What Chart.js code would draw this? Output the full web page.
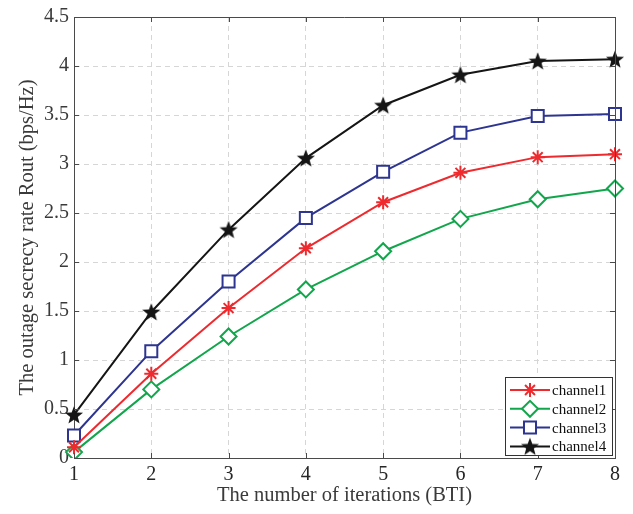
<!DOCTYPE html>
<html>
<head>
<meta charset="utf-8">
<title>Outage secrecy rate vs iterations</title>
<script src="https://cdn.jsdelivr.net/npm/chart.js@4.4.1/dist/chart.umd.min.js"></script>
<style>
  html, body { margin: 0; padding: 0; background: #fff; }
  #wrap { width: 633px; height: 514px; position: relative; }
</style>
</head>
<body>
<div id="wrap"><canvas id="rateChart" width="633" height="514"></canvas></div>
<script>
// iterations on the x axis
const iterations = ['1', '2', '3', '4', '5', '6', '7', '8'];
const yTickLabels = ['0', '0.5', '1', '1.5', '2', '2.5', '3', '3.5', '4', '4.5'];

// outage secrecy rate per channel (bps/Hz)
const channel1 = [0.11, 0.86, 1.53, 2.14, 2.61, 2.91, 3.07, 3.10];
const channel2 = [0.06, 0.70, 1.24, 1.72, 2.11, 2.44, 2.64, 2.75];
const channel3 = [0.23, 1.09, 1.80, 2.45, 2.92, 3.32, 3.49, 3.51];
const channel4 = [0.44, 1.49, 2.33, 3.06, 3.60, 3.91, 4.05, 4.07];

const seriesNames = ['channel1', 'channel2', 'channel3', 'channel4'];

const RED = '#ee2a2e';
const GREEN = '#12a64c';
const BLUE = '#2d3590';
const BLACK = '#151515';
const AXIS = '#4a4a4a';
const GRID = '#d6d6d6';
const SERIF = '"Liberation Serif", "Times New Roman", serif';

// filled five-point star marker
function makeStar(size, color) {
  const c = document.createElement('canvas');
  c.width = size; c.height = size;
  const g = c.getContext('2d');
  const cx = size / 2, cy = size / 2 + 0.8;
  const outer = size / 2 - 0.5, inner = outer * 0.42;
  g.beginPath();
  for (let i = 0; i < 10; i++) {
    const r = i % 2 === 0 ? outer : inner;
    const a = -Math.PI / 2 + i * Math.PI / 5;
    const px = cx + r * Math.cos(a), py = cy + r * Math.sin(a);
    if (i === 0) g.moveTo(px, py); else g.lineTo(px, py);
  }
  g.closePath();
  g.fillStyle = color;
  g.fill();
  return c;
}
const starImg = makeStar(20, BLACK);

// inward tick marks and the top/right box edges
const boxTicks = {
  id: 'boxTicks',
  afterDatasetsDraw(chart) {
    const { ctx, chartArea: a, scales } = chart;
    ctx.save();
    ctx.strokeStyle = AXIS;
    ctx.lineWidth = 1;
    ctx.beginPath();
    ctx.moveTo(a.left, a.top + 0.5);
    ctx.lineTo(a.right + 0.5, a.top + 0.5);
    ctx.lineTo(a.right + 0.5, a.bottom);
    ctx.stroke();
    const len = 5;
    ctx.beginPath();
    scales.y.ticks.forEach(t => {
      const y = Math.round(scales.y.getPixelForValue(t.value)) + 0.5;
      ctx.moveTo(a.left, y); ctx.lineTo(a.left + len, y);
      ctx.moveTo(a.right, y); ctx.lineTo(a.right - len, y);
    });
    scales.x.ticks.forEach((t, i) => {
      const x = Math.round(scales.x.getPixelForValue(i)) + 0.5;
      ctx.moveTo(x, a.bottom); ctx.lineTo(x, a.bottom - len);
      ctx.moveTo(x, a.top); ctx.lineTo(x, a.top + len);
    });
    ctx.stroke();
    ctx.restore();
  }
};

// boxed legend with line + marker samples, lower right corner
const lineLegend = {
  id: 'lineLegend',
  afterDraw(chart) {
    const { ctx, chartArea: a } = chart;
    const w = 107, h = 78;
    const left = a.right - 3 - w, top = a.bottom - 3 - h;
    ctx.save();
    ctx.fillStyle = '#fff';
    ctx.fillRect(left, top, w, h);
    ctx.strokeStyle = '#333';
    ctx.lineWidth = 1;
    ctx.strokeRect(left + 0.5, top + 0.5, w, h);
    ctx.font = '15px ' + SERIF;
    ctx.textBaseline = 'middle';
    chart.data.datasets.forEach((ds, i) => {
      const y = top + 13 + i * 18.8;
      ctx.strokeStyle = ds.borderColor;
      ctx.lineWidth = 2;
      ctx.beginPath();
      ctx.moveTo(left + 5, y);
      ctx.lineTo(left + 45, y);
      ctx.stroke();
      ctx.fillStyle = ds.pointBackgroundColor;
      ctx.strokeStyle = ds.pointBorderColor;
      ctx.lineWidth = ds.pointBorderWidth;
      Chart.helpers.drawPoint(ctx, {
        pointStyle: ds.pointStyle,
        radius: ds.pointRadius,
        borderWidth: ds.pointBorderWidth,
        rotation: 0
      }, left + 25, y);
      ctx.fillStyle = '#111';
      ctx.fillText(ds.label, left + 47, y + 1);
    });
    ctx.restore();
  }
};

function series(label, data, color, style, radius, fill) {
  return {
    label: label,
    data: data,
    borderColor: color,
    borderWidth: 2,
    pointStyle: style,
    pointRadius: radius,
    pointHoverRadius: radius,
    pointBorderColor: color,
    pointBackgroundColor: fill,
    pointBorderWidth: 2,
    tension: 0,
    fill: false
  };
}

const ctx = document.getElementById('rateChart').getContext('2d');
new Chart(ctx, {
  type: 'line',
  data: {
    labels: iterations,
    datasets: [
      series(seriesNames[0], channel1, RED, 'star', 7, RED),
      series(seriesNames[1], channel2, GREEN, 'rectRot', 8, '#fff'),
      series(seriesNames[2], channel3, BLUE, 'rect', 8.5, '#fff'),
      series(seriesNames[3], channel4, BLACK, starImg, 10, BLACK)
    ]
  },
  options: {
    responsive: false,
    animation: false,
    events: [],
    layout: { padding: { left: 0, top: 12, right: 18, bottom: 0 } },
    plugins: {
      legend: { display: false },
      tooltip: { enabled: false }
    },
    scales: {
      x: {
        offset: false,
        afterFit(s) { s.height = 56; },
        grid: { color: GRID, lineWidth: 1, drawTicks: false },
        // in v4 the border dash also dashes the grid lines
        border: { display: true, color: AXIS, width: 1, dash: [5, 4] },
        ticks: { color: '#262626', padding: 5, font: { family: SERIF, size: 20 } },
        title: {
          display: true,
          text: 'The number of iterations (BTI)',
          color: '#3a3a3a',
          font: { family: SERIF, size: 20.5 },
          padding: { top: 0, bottom: 6 }
        }
      },
      y: {
        min: 0,
        max: 4.5,
        afterFit(s) { s.width = 74; },
        grid: { color: GRID, lineWidth: 1, drawTicks: false },
        border: { display: true, color: AXIS, width: 1, dash: [5, 4] },
        ticks: {
          stepSize: 0.5,
          color: '#3a3a3a',
          padding: 5,
          font: { family: SERIF, size: 20 },
          callback: (value, index) => yTickLabels[index]
        },
        title: {
          display: true,
          text: 'The outage secrecy rate Rout (bps/Hz)',
          color: '#3a3a3a',
          font: { family: SERIF, size: 20.5 },
          padding: { top: 15, bottom: 0 }
        }
      }
    }
  },
  plugins: [boxTicks, lineLegend]
});
</script>
</body>
</html>
